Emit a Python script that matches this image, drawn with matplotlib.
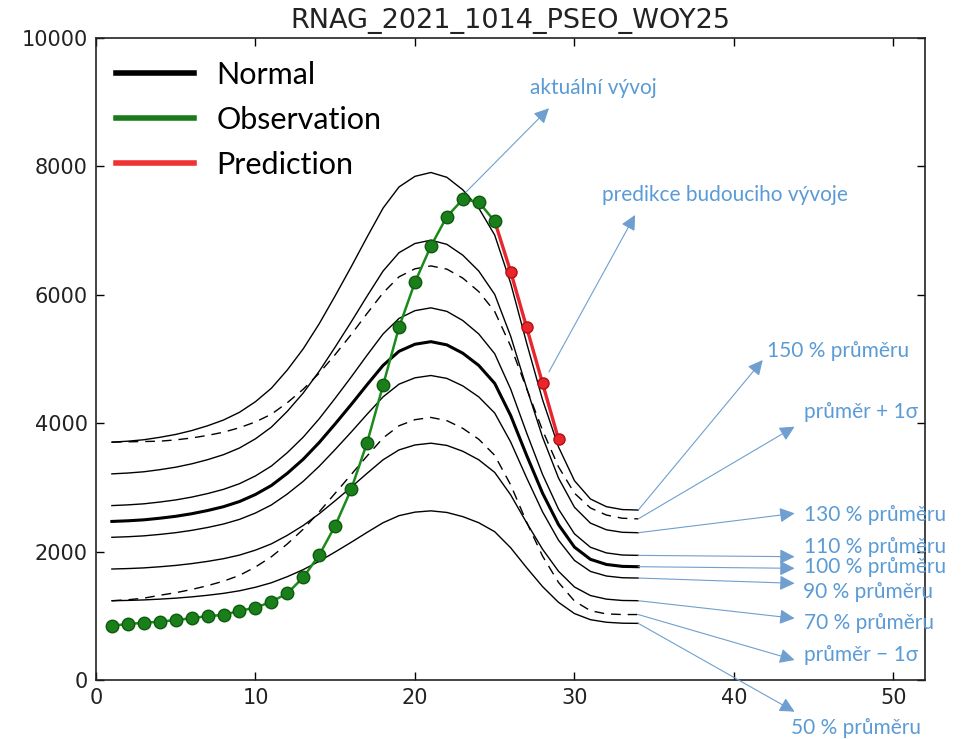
import matplotlib
matplotlib.use("Agg")
import matplotlib.pyplot as plt
from matplotlib.lines import Line2D

# ---------------- data ----------------
title = "RNAG_2021_1014_PSEO_WOY25"
weeks = list(range(1, 35))
normal = [2470, 2480, 2495, 2520, 2550, 2590, 2640, 2700, 2780, 2890,
          3030, 3220, 3440, 3700, 3990, 4290, 4600, 4900, 5120, 5230,
          5270, 5220, 5090, 4900, 4620, 4120, 3500, 2910, 2420, 2070,
          1880, 1800, 1770, 1765]
sigma = [1235, 1230, 1220, 1200, 1190, 1180, 1170, 1160, 1150, 1130,
         1110, 1100, 1090, 1080, 1080, 1090, 1110, 1130, 1160, 1175,
         1180, 1180, 1170, 1150, 1120, 1080, 1040, 980, 900, 840,
         800, 770, 750, 745]
pct_levels = [150, 130, 110, 90, 70, 50]

obs_weeks = list(range(1, 26))
observation = [846, 872, 893, 908, 935, 961, 997, 1012, 1080, 1126,
               1220, 1350, 1600, 1947, 2404, 2970, 3696, 4590, 5494, 6195,
               6760, 7217, 7487, 7445, 7145]
pred_weeks = [25, 26, 27, 28, 29]
prediction = [7145, 6360, 5494, 4621, 3749]

legend_labels = ["Normal", "Observation", "Prediction"]
xticks = [0, 10, 20, 30, 40, 50]
yticks = [0, 2000, 4000, 6000, 8000, 10000]

# annotation texts
lbl_actual = "aktuální vývoj"
lbl_pred = "predikce budouciho vývoje"
lbl_150 = "150 % průměru"
lbl_p1s = "průměr + 1σ"
lbl_130 = "130 % průměru"
lbl_110 = "110 % průměru"
lbl_100 = "100 % průměru"
lbl_90 = "90 % průměru"
lbl_70 = "70 % průměru"
lbl_m1s = "průměr − 1σ"
lbl_50 = "50 % průměru"

# ---------------- figure ----------------
fig = plt.figure(figsize=(9.69, 7.39), dpi=100)
ax = fig.add_axes([0.099, 0.0798, 0.856, 0.8688])

pct = {p: [v * p / 100 for v in normal] for p in pct_levels}
upper = [m + s for m, s in zip(normal, sigma)]
lower = [m - s for m, s in zip(normal, sigma)]

for p in pct_levels:
    ax.plot(weeks, pct[p], color="black", lw=1.0, zorder=2)
ax.plot(weeks, upper, color="black", lw=1.0, dashes=(7, 5), zorder=2)
ax.plot(weeks, lower, color="black", lw=1.0, dashes=(7, 5), zorder=2)
ax.plot(weeks, normal, color="black", lw=2.2, zorder=2)

ax.plot(pred_weeks, prediction, color="#e8262b", lw=2.4, marker="o",
        markersize=8, markerfacecolor="#e8262b", markeredgecolor="#b01010",
        zorder=3)
ax.plot(obs_weeks, observation, color="#1b8a1b", lw=1.8, marker="o",
        markersize=9, markerfacecolor="#1a7f1a", markeredgecolor="#0d5a0d",
        zorder=4)

ax.set_xlim(0, 52)
ax.set_ylim(0, 10000)
ax.set_xticks(xticks)
ax.set_yticks(yticks)
ax.tick_params(direction="in", length=6, width=1, top=True, right=True,
               labelsize=15, labelcolor="#222222", pad=6)
for s in ax.spines.values():
    s.set_linewidth(1.2)
    s.set_color("#222222")
for t in ax.get_xticklabels() + ax.get_yticklabels():
    t.set_family(["DejaVu Sans"])
ax.set_title(title, fontsize=19.5, color="#222222", pad=7,
             family=["DejaVu Sans"])

# legend
handles = [Line2D([], [], color="black", lw=4),
           Line2D([], [], color="#1a7a1a", lw=4),
           Line2D([], [], color="#f03232", lw=4)]
leg = ax.legend(handles, legend_labels, loc="upper left",
                bbox_to_anchor=(-0.002, 0.998), frameon=False,
                prop={"family": ["Lato", "DejaVu Sans"], "size": 22},
                handlelength=2.55, handletextpad=0.75, labelspacing=0.56,
                borderpad=0.2)
for t in leg.get_texts():
    t.set_color("black")

# annotations
blue = "#5b9bd5"
arrow_kw = dict(arrowstyle="-|>,head_length=0.9,head_width=0.45",
                color="#6f9fd0", lw=0.8, shrinkA=0, shrinkB=0)
tfont = dict(color=blue, fontsize=15, family=["Lato", "DejaVu Sans"],
             va="center", ha="left", clip_on=False)

end = len(weeks) - 1
xe = weeks[end]
arrows = [
    ((23.2, 7600), (28.4, 8905)),
    ((28.4, 4800), (33.8, 7243)),
    ((xe, pct[150][end]), (41.8, 4984)),
    ((xe, upper[end]), (43.8, 3946)),
    ((xe, pct[130][end]), (43.8, 2596)),
    ((xe, pct[110][end]), (43.8, 1921)),
    ((xe, normal[end]), (43.8, 1740)),
    ((xe, pct[90][end]), (43.8, 1506)),
    ((xe, pct[70][end]), (43.8, 961)),
    ((xe, lower[end]), (43.8, 312)),
    ((xe, pct[50][end]), (43.8, -493)),
]
for tail, tip in arrows:
    ax.annotate("", xy=tip, xytext=tail, arrowprops=arrow_kw,
                annotation_clip=False, zorder=5)

texts = [
    (27.2, 9220, lbl_actual),
    (31.7, 7547, lbl_pred),
    (42.1, 5130, lbl_150),
    (44.4, 4180, lbl_p1s),
    (44.4, 2570, lbl_130),
    (44.4, 2076, lbl_110),
    (44.4, 1765, lbl_100),
    (44.3, 1376, lbl_90),
    (44.4, 883, lbl_70),
    (44.4, 389, lbl_m1s),
    (43.6, -753, lbl_50),
]
for x, y, s in texts:
    ax.text(x, y, s, zorder=6, **tfont)

fig.savefig("out.png", dpi=100)
